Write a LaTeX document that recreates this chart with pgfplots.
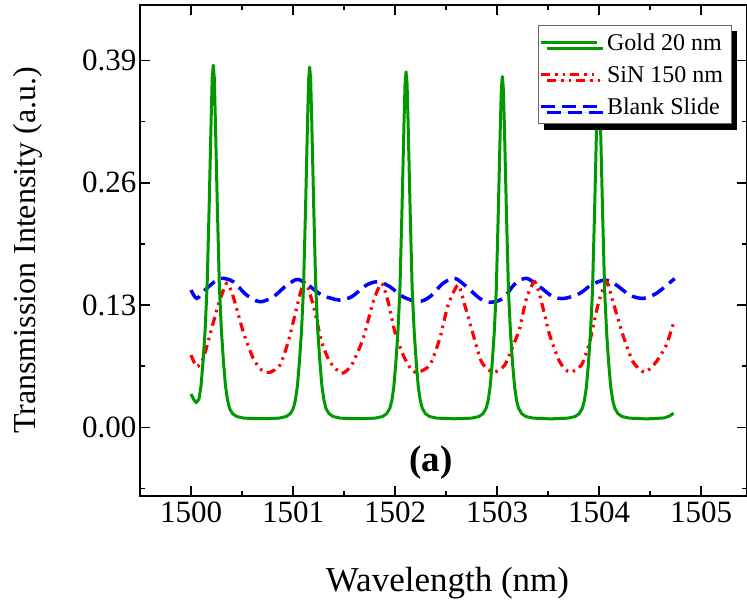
\documentclass[border=0pt]{standalone}
\usepackage{fontspec}
\setmainfont{Liberation Serif}
\usepackage{pgfplots}
\pgfplotsset{compat=1.18}
\usetikzlibrary{shadows}
\definecolor{cgreen}{RGB}{0,153,0}
\begin{document}
\begin{tikzpicture}
\begin{axis}[
 at={(0pt,0pt)}, anchor=south west,
 scale only axis, width=607pt, height=491pt,
 xmin=1499.5, xmax=1505.45, ymin=-0.073, ymax=0.449,
 xtick={1500,1501,1502,1503,1504,1505},
 xticklabels={1500,1501,1502,1503,1504,1505},
 minor xtick={1500.5,1501.5,1502.5,1503.5,1504.5},
 ytick={0,0.13,0.26,0.39}, yticklabels={0.00,0.13,0.26,0.39},
 minor ytick={-0.065,0.065,0.195,0.325},
 tick align=inside, xtick pos=both, ytick pos=both,
 xticklabel pos=lower, yticklabel pos=left,
 major tick length=10pt, minor tick length=5pt,
 tick style={black, line width=1.5pt},
 axis line style={line width=1.5pt},
 ticklabel style={font=\fontsize{31}{36}\selectfont},
 xticklabel style={yshift=-2pt},
 xlabel={Wavelength (nm)}, ylabel={Transmission Intensity (a.u.)},
 xlabel style={font=\fontsize{35}{40}\selectfont, at={(axis description cs:0.5066,-0.1772)}, anchor=center},
 ylabel style={font=\fontsize{32}{38}\selectfont, at={(axis description cs:-0.1845,0.5)}, anchor=center},
 reverse legend,
 legend image code/.code={\draw[#1] (0pt,0pt) -- (56pt,0pt); \path (63pt,0pt);},
 legend style={at={(rel axis cs:0.6552,0.9593)}, anchor=north west,
   draw=black!60, line width=1pt, fill=white,
   inner xsep=1.3pt, inner ysep=5.5pt, row sep=7.7pt, column sep=0pt,
   font=\fontsize{24}{28}\selectfont,
   nodes={inner sep=1pt, text height=19pt, text depth=3pt},
   drop shadow={shadow xshift=6pt, shadow yshift=-6pt, fill=black, opacity=1}},
]
% Blank Slide
\addplot[blue, line width=3.5pt, dash pattern=on 14pt off 7pt, smooth] coordinates {
(1500.000,0.1460) (1500.056,0.1371) (1500.137,0.1460) (1500.252,0.1566) (1500.316,0.1584)
(1500.414,0.1548) (1500.546,0.1406) (1500.676,0.1335) (1500.806,0.1388) (1500.921,0.1495)
(1501.019,0.1566) (1501.068,0.1566) (1501.149,0.1513) (1501.280,0.1406) (1501.378,0.1371)
(1501.459,0.1353) (1501.574,0.1388) (1501.721,0.1513) (1501.834,0.1548) (1501.949,0.1495)
(1502.079,0.1388) (1502.226,0.1335) (1502.341,0.1388) (1502.471,0.1531) (1502.586,0.1584)
(1502.700,0.1495) (1502.830,0.1371) (1502.929,0.1329) (1503.059,0.1371) (1503.173,0.1523)
(1503.288,0.1584) (1503.418,0.1495) (1503.548,0.1388) (1503.663,0.1371) (1503.810,0.1424)
(1503.924,0.1513) (1504.055,0.1566) (1504.169,0.1513) (1504.300,0.1406) (1504.430,0.1371)
(1504.561,0.1424) (1504.724,0.1566) (1504.740,0.1580)
};
\addlegendentry{\makebox[122pt][l]{Blank Slide}}
% SiN 150 nm
\addplot[red, line width=3.2pt, dash pattern=on 9pt off 5pt on 2.5pt off 5pt on 2.5pt off 5pt, smooth, tension=0.4] coordinates {
(1500.000,0.0769) (1500.056,0.0644) (1500.120,0.0733) (1500.203,0.1052) (1500.267,0.1300)
(1500.350,0.1531) (1500.414,0.1388) (1500.512,0.1016) (1500.610,0.0733) (1500.692,0.0609)
(1500.774,0.0585) (1500.872,0.0662) (1500.953,0.0910) (1501.019,0.1194) (1501.100,0.1531)
(1501.149,0.1478) (1501.214,0.1229) (1501.280,0.0910) (1501.361,0.0697) (1501.476,0.0574)
(1501.574,0.0662) (1501.688,0.0946) (1501.786,0.1335) (1501.868,0.1531) (1501.932,0.1335)
(1501.998,0.1016) (1502.079,0.0769) (1502.162,0.0609) (1502.226,0.0585) (1502.341,0.0662)
(1502.439,0.0946) (1502.520,0.1300) (1502.618,0.1513) (1502.683,0.1300) (1502.749,0.1052)
(1502.847,0.0697) (1502.961,0.0585) (1503.075,0.0662) (1503.173,0.0910) (1503.222,0.1052)
(1503.288,0.1371) (1503.369,0.1548) (1503.435,0.1335) (1503.516,0.0981) (1503.614,0.0697)
(1503.712,0.0585) (1503.827,0.0662) (1503.908,0.0910) (1503.989,0.1300) (1504.072,0.1548)
(1504.136,0.1335) (1504.234,0.0981) (1504.332,0.0697) (1504.447,0.0585) (1504.561,0.0697)
(1504.659,0.0875) (1504.724,0.1087) (1504.740,0.1120)
};
\addlegendentry{\makebox[122pt][l]{SiN 150 nm}}
% Gold 20 nm
\addplot[cgreen, line width=3pt, line join=round] coordinates {
(1500.000,0.0355) (1500.025,0.0300) (1500.050,0.0262) (1500.078,0.0300) (1500.098,0.0440)
(1500.118,0.0700) (1500.138,0.1030) (1500.158,0.1500) (1500.178,0.2350) (1500.198,0.3300)
(1500.208,0.3720) (1500.218,0.3850) (1500.228,0.3720) (1500.238,0.3300) (1500.258,0.2350)
(1500.278,0.1500) (1500.298,0.1030) (1500.318,0.0700) (1500.338,0.0440) (1500.358,0.0290)
(1500.378,0.0200) (1500.408,0.0145) (1500.448,0.0115) (1500.518,0.0098) (1500.618,0.0093)
(1500.690,0.0092)
(1500.763,0.0093) (1500.863,0.0098) (1500.933,0.0115) (1500.973,0.0145) (1501.003,0.0200)
(1501.023,0.0290) (1501.043,0.0440) (1501.063,0.0700) (1501.083,0.1020) (1501.103,0.1490)
(1501.123,0.2340) (1501.143,0.3280) (1501.153,0.3700) (1501.163,0.3830) (1501.173,0.3700)
(1501.183,0.3280) (1501.203,0.2340) (1501.223,0.1490) (1501.243,0.1020) (1501.263,0.0700)
(1501.283,0.0440) (1501.303,0.0290) (1501.323,0.0200) (1501.353,0.0145) (1501.393,0.0115)
(1501.463,0.0098) (1501.563,0.0093) (1501.635,0.0092)
(1501.708,0.0093) (1501.808,0.0098) (1501.878,0.0115) (1501.918,0.0145) (1501.948,0.0200)
(1501.968,0.0280) (1501.988,0.0430) (1502.008,0.0690) (1502.028,0.1010) (1502.048,0.1470)
(1502.068,0.2310) (1502.088,0.3240) (1502.098,0.3650) (1502.108,0.3780) (1502.118,0.3650)
(1502.128,0.3240) (1502.148,0.2310) (1502.168,0.1470) (1502.188,0.1010) (1502.208,0.0690)
(1502.228,0.0430) (1502.248,0.0280) (1502.268,0.0200) (1502.298,0.0145) (1502.338,0.0115)
(1502.408,0.0098) (1502.508,0.0093) (1502.580,0.0091)
(1502.652,0.0093) (1502.752,0.0098) (1502.822,0.0115) (1502.862,0.0145) (1502.892,0.0200)
(1502.912,0.0280) (1502.932,0.0430) (1502.952,0.0680) (1502.972,0.1000) (1502.992,0.1450)
(1503.012,0.2280) (1503.032,0.3200) (1503.042,0.3600) (1503.052,0.3730) (1503.062,0.3600)
(1503.072,0.3200) (1503.092,0.2280) (1503.112,0.1450) (1503.132,0.1000) (1503.152,0.0680)
(1503.172,0.0430) (1503.192,0.0280) (1503.212,0.0200) (1503.242,0.0145) (1503.282,0.0115)
(1503.352,0.0098) (1503.452,0.0093) (1503.524,0.0090)
(1503.595,0.0093) (1503.695,0.0098) (1503.765,0.0115) (1503.805,0.0145) (1503.835,0.0200)
(1503.855,0.0280) (1503.875,0.0420) (1503.895,0.0670) (1503.915,0.0990) (1503.935,0.1440)
(1503.955,0.2260) (1503.975,0.3170) (1503.985,0.3570) (1503.995,0.3700) (1504.005,0.3570)
(1504.015,0.3170) (1504.035,0.2260) (1504.055,0.1440) (1504.075,0.0990) (1504.095,0.0670)
(1504.115,0.0420) (1504.135,0.0280) (1504.155,0.0200) (1504.185,0.0145) (1504.225,0.0115)
(1504.295,0.0098) (1504.395,0.0093) (1504.467,0.0090) (1504.538,0.0093) (1504.638,0.0100)
(1504.690,0.0120) (1504.730,0.0150)
};
\addlegendentry{\makebox[122pt][l]{Gold 20 nm}}
\node[font=\bfseries\fontsize{37}{40}\selectfont] at (axis cs:1502.35,-0.038) {(a)};
\end{axis}
\pgfresetboundingbox
\useasboundingbox (-140pt,-108pt) rectangle (607pt,496pt);
\end{tikzpicture}
\end{document}
